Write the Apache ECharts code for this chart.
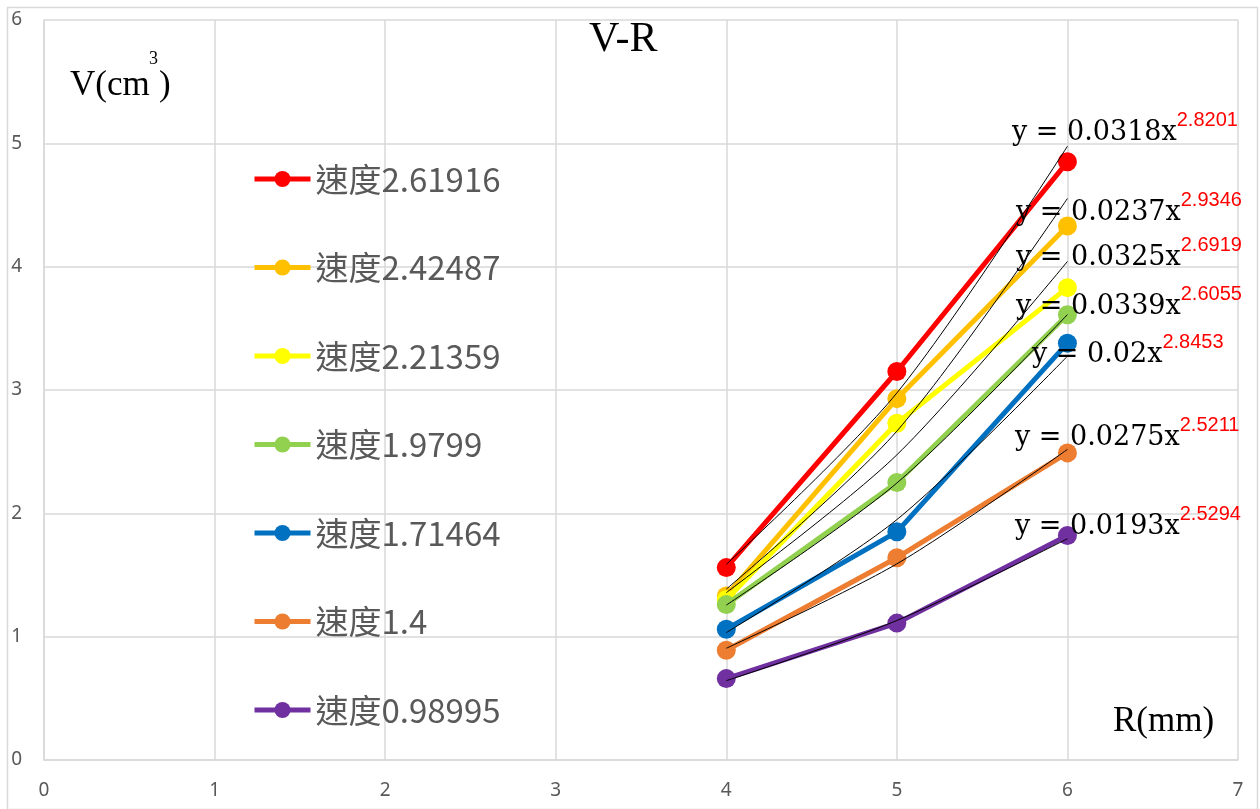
<!DOCTYPE html>
<html>
<head>
<meta charset="utf-8">
<script src="https://cdn.jsdelivr.net/npm/echarts@6/dist/echarts.min.js"></script>
<style>
  html, body { margin: 0; padding: 0; background: #fff; }
  #chart { width: 1260px; height: 809px; }
</style>
</head>
<body>
<div id="chart"></div>
<script>
const radii = [4, 5, 6]
const seriesNames = ['速度2.61916', '速度2.42487', '速度2.21359', '速度1.9799', '速度1.71464', '速度1.4', '速度0.98995']
const seriesColors = ['#FF0000', '#FFC000', '#FFFF00', '#92D050', '#0070C0', '#ED7D31', '#7030A0']
const volumes = [
  [1.56, 3.15, 4.85],
  [1.33, 2.93, 4.33],
  [1.30, 2.73, 3.83],
  [1.26, 2.25, 3.61],
  [1.06, 1.85, 3.38],
  [0.89, 1.64, 2.49],
  [0.66, 1.11, 1.82],
]
// 乘幂趋势线 y = a * x^b
const trendA = [0.0318, 0.0237, 0.0325, 0.0339, 0.02, 0.0275, 0.0193]
const trendB = [2.8201, 2.9346, 2.6919, 2.6055, 2.8453, 2.5211, 2.5294]
const xTicks = [0, 1, 2, 3, 4, 5, 6, 7]
const yTicks = [0, 1, 2, 3, 4, 5, 6]

const chart = echarts.init(document.getElementById('chart'))

const series = []
seriesNames.forEach((name, i) => {
  series.push({
    name: name,
    type: 'line',
    data: radii.map((r, j) => [r, volumes[i][j]]),
    symbol: 'circle',
    symbolSize: 19,
    z: 2 + i,
    itemStyle: {color: seriesColors[i]},
    lineStyle: {color: seriesColors[i], width: 5},
  })
})
trendA.forEach((a, i) => {
  series.push({
    name: 'trend' + i,
    type: 'line',
    data: radii.map(r => [r, a * Math.pow(r, trendB[i])]),
    smooth: 0.3,
    symbol: 'none',
    z: 20,
    silent: true,
    lineStyle: {color: '#000', width: 1},
  })
})

// 趋势线公式标注
const eqLabelY = [128, 208, 253, 302, 350, 433, 522]
const eqLabelX = [1012, 1016, 1016, 1016, 1032, 1015, 1015]
const eqGraphics = trendA.map((a, i) => ({
  type: 'text',
  left: eqLabelX[i],
  top: eqLabelY[i] - 18,
  z: 100,
  style: {
    text: '{m|y = ' + a + 'x}{e|' + trendB[i].toFixed(4) + '}',
    rich: {
      m: {fontFamily: 'DejaVu Serif', fontSize: 27, fill: '#000', lineHeight: 36, verticalAlign: 'bottom'},
      e: {fontFamily: 'Liberation Sans', fontSize: 20, fill: '#FF0000', lineHeight: 36, verticalAlign: 'top'},
    },
  },
}))

const option = {
  animation: false,
  backgroundColor: '#fff',
  grid: {left: 44, right: 22, top: 20, bottom: 49},
  legend: {
    orient: 'vertical',
    left: 247,
    top: 154,
    itemWidth: 56,
    itemHeight: 20,
    itemGap: 48.5,
    data: seriesNames,
    lineStyle: {width: 5},
    textStyle: {fontFamily: 'Noto Sans CJK TC', fontSize: 33, color: '#595959', lineHeight: 40},
  },
  xAxis: {
    type: 'value',
    min: 0,
    max: 7,
    interval: 1,
    axisLine: {show: true, lineStyle: {color: '#D9D9D9', width: 1.5}},
    axisTick: {show: false},
    axisLabel: {color: '#595959', fontSize: 19, fontFamily: 'Noto Sans', margin: 21,
      formatter: v => xTicks.includes(v) ? String(v) : ''},
    splitLine: {show: true, lineStyle: {color: '#D9D9D9', width: 1.5}},
  },
  yAxis: {
    type: 'value',
    min: 0,
    max: 6,
    interval: 1,
    axisLine: {show: true, lineStyle: {color: '#D9D9D9', width: 1.5}},
    axisTick: {show: false},
    axisLabel: {color: '#595959', fontSize: 19, fontFamily: 'Noto Sans', margin: 22,
      formatter: v => yTicks.includes(v) ? String(v) : ''},
    splitLine: {show: true, lineStyle: {color: '#D9D9D9', width: 1.5}},
  },
  graphic: [
    {type: 'rect', left: 5, top: 5, z: -1, silent: true,
      shape: {width: 1250, height: 802}, style: {fill: 'none', stroke: '#D9D9D9', lineWidth: 1.5}},
    {type: 'text', left: 589, top: 19, z: 100,
      style: {text: 'V-R', fontFamily: 'Liberation Serif', fontSize: 42, fill: '#000'}},
    {type: 'text', left: 70, top: 68, z: 100,
      style: {text: 'V(cm', fontFamily: 'Liberation Serif', fontSize: 35, fill: '#000'}},
    {type: 'text', left: 159, top: 68, z: 100,
      style: {text: ')', fontFamily: 'Liberation Serif', fontSize: 35, fill: '#000'}},
    {type: 'text', left: 149, top: 50, z: 100,
      style: {text: '3', fontFamily: 'Liberation Serif', fontSize: 18, fill: '#000'}},
    {type: 'text', left: 1113, top: 704, z: 100,
      style: {text: 'R(mm)', fontFamily: 'Liberation Serif', fontSize: 35, fill: '#000'}},
    ...eqGraphics,
  ],
  series: series,
}

option && chart.setOption(option)
</script>
</body>
</html>
